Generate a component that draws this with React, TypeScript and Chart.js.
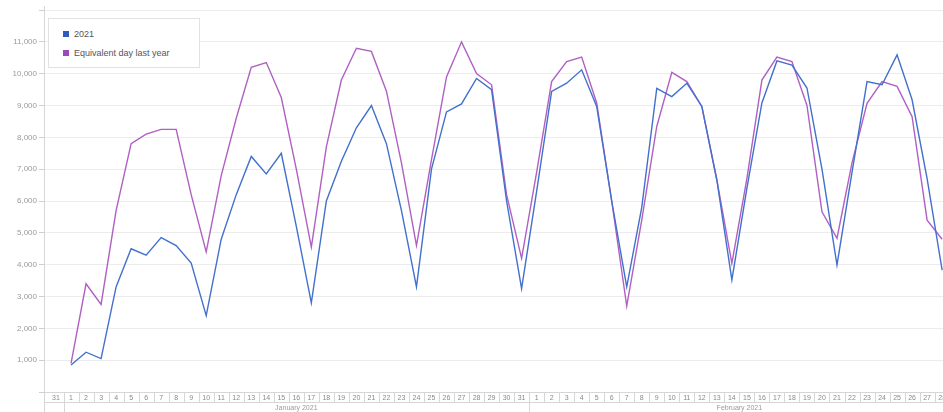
import React, { useEffect, useRef } from "react";
import { Chart, registerables } from "chart.js";

Chart.register(...registerables);

const dayLabels: string[] = [
  "31",
  "1", "2", "3", "4", "5", "6", "7", "8", "9", "10", "11", "12", "13", "14", "15", "16",
  "17", "18", "19", "20", "21", "22", "23", "24", "25", "26", "27", "28", "29", "30", "31",
  "1", "2", "3", "4", "5", "6", "7", "8", "9", "10", "11", "12", "13", "14",
  "15", "16", "17", "18", "19", "20", "21", "22", "23", "24", "25", "26", "27", "28",
];

const monthLabels: string[] = ["January 2021", "February 2021"];
const monthStartIndex: number[] = [1, 32];
const monthEndIndex: number[] = [31, 59];

const values2021: (number | null)[] = [
  null,
  850, 1250, 1050, 3300, 4500, 4300, 4850, 4600, 4050, 2400,
  4800, 6200, 7400, 6850, 7500, 5200, 2800, 6000, 7250, 8300,
  9000, 7800, 5700, 3300, 7000, 8800, 9050, 9850, 9500, 6000, 3250,
  6300, 9440, 9700, 10120, 8970, 6000, 3300, 5800, 9540, 9280,
  9700, 8970, 6660, 3520, 6400, 9080, 10400, 10270, 9550, 7000,
  3990, 6900, 9750, 9650, 10590, 9180, 6700, 3830,
];

const valuesLastYear: (number | null)[] = [
  null,
  900, 3400, 2750, 5700, 7800, 8100, 8250, 8250, 6200, 4400,
  6800, 8600, 10200, 10350, 9250, 7000, 4550, 7700, 9800, 10800,
  10700, 9450, 7200, 4600, 7300, 9900, 11000, 10000, 9650, 6200, 4200,
  6900, 9750, 10380, 10520, 9080, 6000, 2700, 5400, 8340, 10040,
  9750, 8970, 6660, 4040, 6700, 9800, 10520, 10380, 9000, 5660,
  4830, 7200, 9070, 9750, 9600, 8650, 5400, 4800,
];

const yTickValues: number[] = [0, 1000, 2000, 3000, 4000, 5000, 6000, 7000, 8000, 9000, 10000, 11000, 12000];

const seriesNames: string[] = ["2021", "Equivalent day last year"];
const BLUE = "#4270cc";
const PURPLE = "#b060c2";
const FONT = "'Liberation Sans', Arial, sans-serif";

const axisRowPlugin = {
  id: "axisRow",
  afterDraw(chart: any) {
    const { ctx, chartArea } = chart;
    const xs = chart.scales.x;
    const bottom = chartArea.bottom;
    const rowBottom = 402;
    ctx.save();
    ctx.strokeStyle = "#d6d6d6";
    ctx.lineWidth = 1;
    ctx.beginPath();
    ctx.moveTo(chartArea.left, Math.round(bottom) + 0.5);
    ctx.lineTo(chart.width, Math.round(bottom) + 0.5);
    ctx.moveTo(chartArea.left, rowBottom + 0.5);
    ctx.lineTo(chart.width, rowBottom + 0.5);
    for (let i = 0; i < dayLabels.length; i++) {
      const px = Math.round(xs.getPixelForValue(i + 0.5)) + 0.5;
      const isBoundary = monthStartIndex.includes(i + 1);
      ctx.moveTo(px, bottom);
      ctx.lineTo(px, isBoundary ? 412 : rowBottom);
    }
    ctx.moveTo(chartArea.left + 0.5, 6);
    ctx.lineTo(chartArea.left + 0.5, 412);
    ctx.stroke();

    ctx.fillStyle = "#9a9a9a";
    ctx.font = `7px ${FONT}`;
    ctx.textAlign = "center";
    ctx.textBaseline = "middle";
    monthLabels.forEach((m, k) => {
      const a = xs.getPixelForValue(monthStartIndex[k]);
      const b = xs.getPixelForValue(monthEndIndex[k]);
      ctx.fillText(m, (a + b) / 2, 408);
    });
    ctx.restore();
  },
};

export default function App() {
  const canvasRef = useRef<HTMLCanvasElement | null>(null);

  useEffect(() => {
    if (!canvasRef.current) return;
    const chart = new Chart(canvasRef.current, {
      type: "line",
      data: {
        datasets: [
          {
            label: seriesNames[0],
            data: values2021.map((v, i) => ({ x: i, y: v })) as any,
            borderColor: BLUE,
            backgroundColor: BLUE,
            borderWidth: 1.4,
            pointRadius: 0,
            tension: 0,
          },
          {
            label: seriesNames[1],
            data: valuesLastYear.map((v, i) => ({ x: i, y: v })) as any,
            borderColor: PURPLE,
            backgroundColor: PURPLE,
            borderWidth: 1.4,
            pointRadius: 0,
            tension: 0,
          },
        ],
      },
      options: {
        animation: false,
        responsive: false,
        maintainAspectRatio: false,
        layout: { padding: { top: 10, left: 0, right: 0, bottom: 0 } },
        plugins: {
          legend: { display: false },
          tooltip: { enabled: false },
        },
        scales: {
          x: {
            type: "linear",
            min: -0.8,
            max: 60.19,
            afterBuildTicks: (s: any) => {
              s.ticks = dayLabels.map((_, i) => ({ value: i }));
            },
            afterFit: (s: any) => {
              s.height = 20;
              s.paddingLeft = 0;
              s.paddingRight = 0;
            },
            grid: { display: false, drawTicks: false },
            border: { display: false },
            ticks: {
              autoSkip: false,
              maxRotation: 0,
              minRotation: 0,
              padding: 2,
              color: "#8a8a8a",
              font: { size: 7, family: FONT },
              callback: (_v: any, i: number) => dayLabels[i],
            },
          },
          y: {
            min: 0,
            max: 12000,
            afterBuildTicks: (s: any) => {
              s.ticks = yTickValues.map((v) => ({ value: v }));
            },
            afterFit: (s: any) => {
              s.width = 44;
            },
            grid: {
              color: "#ececec",
              tickColor: "#cfcfcf",
              tickLength: 5,
              drawTicks: true,
            },
            border: { display: false },
            ticks: {
              padding: 2,
              color: "#9a9a9a",
              font: { size: 8, family: FONT },
              callback: (v: any) =>
                v === 0 || v === 12000 ? "" : Number(v).toLocaleString("en-US"),
            },
          },
        },
      },
      plugins: [axisRowPlugin],
    });
    return () => chart.destroy();
  }, []);

  const legendItem = (color: string, text: string, top: number) => (
    <div
      style={{
        position: "absolute",
        left: 14,
        top,
        display: "flex",
        alignItems: "center",
        height: 10,
      }}
    >
      <span style={{ width: 6, height: 6, background: color, display: "inline-block", marginRight: 5 }} />
      <span style={{ fontSize: 9, color: "#555", fontFamily: FONT, lineHeight: "10px", whiteSpace: "nowrap" }}>
        {text}
      </span>
    </div>
  );

  return (
    <div
      style={{
        position: "absolute",
        left: 0,
        top: 0,
        width: 943,
        height: 412,
        overflow: "hidden",
        background: "#fff",
      }}
    >
      <canvas ref={canvasRef} width={960} height={412} style={{ width: 960, height: 412, display: "block" }} />
      <div
        style={{
          position: "absolute",
          left: 48,
          top: 18,
          width: 152,
          height: 50,
          background: "#fff",
          border: "1px solid #e2e2e2",
          boxSizing: "border-box",
        }}
      >
        {legendItem("#2f5bbf", seriesNames[0], 10)}
        {legendItem("#9b4bb3", seriesNames[1], 29)}
      </div>
    </div>
  );
}
